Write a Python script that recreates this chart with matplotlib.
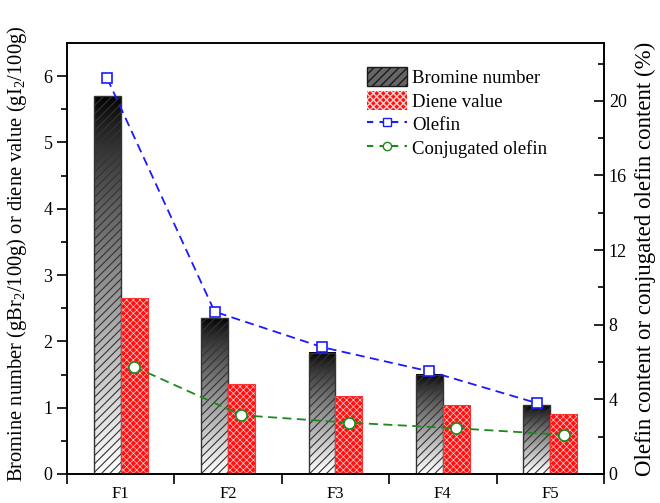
import numpy as np
import matplotlib
matplotlib.use('Agg')
import matplotlib.pyplot as plt
from matplotlib.patches import Patch
from matplotlib.lines import Line2D

plt.rcParams['font.family'] = ['Liberation Serif', 'DejaVu Serif']
plt.rcParams['mathtext.fontset'] = 'custom'
plt.rcParams['mathtext.rm'] = 'Liberation Serif'

# data
fractions = ['F1', 'F2', 'F3', 'F4', 'F5']
bromine_number = [5.70, 2.35, 1.83, 1.50, 1.04]      # gBr2/100g
diene_value = [2.65, 1.36, 1.18, 1.04, 0.90]         # gI2/100g
olefin = [21.2, 8.7, 6.8, 5.5, 3.8]                  # %
conj_olefin = [5.75, 3.15, 2.75, 2.45, 2.1]          # %

x = np.arange(1, len(fractions) + 1)
w = 0.25

fig = plt.figure(figsize=(6.6, 5.03), dpi=100)
ax = fig.add_axes([0.1015, 0.0577, 0.8135, 0.8568])

# bromine bars: black-to-white gradient under a diagonal hatch
grad = np.linspace(0, 1, 256).reshape(-1, 1)
for xi, h in zip(x - w / 2, bromine_number):
    ax.imshow(grad ** 0.8, cmap='gray', aspect='auto', vmin=0, vmax=1.0,
              extent=(xi - w / 2, xi + w / 2, 0, h), zorder=1)
with plt.rc_context({'hatch.linewidth': 0.8}):
    ax.bar(x - w / 2, bromine_number, w, facecolor='none', edgecolor='0.2',
           hatch='////', linewidth=1.0, zorder=2)

# diene bars: red with white cross-hatch (dotted look)
with plt.rc_context({'hatch.linewidth': 0.5}):
    ax.bar(x + w / 2, diene_value, w, facecolor='#ff1010', edgecolor='#ffd0d0',
           hatch='xxxxx', linewidth=0, zorder=2)
ax.bar(x + w / 2, diene_value, w, facecolor='none', edgecolor='#ff3030',
       linewidth=0.8, zorder=3)

ax.set_xlim(0.5, 5.5)
ax.set_ylim(0, 6.5)
ax.set_xticks(np.arange(0.5, 5.6, 1.0))
ax.set_xticklabels([])
ax.set_xticks(x, minor=True)
ax.set_xticklabels(fractions, minor=True, fontsize=12)
ax.tick_params(axis='x', which='major', direction='out', length=7, width=1.2)
ax.tick_params(axis='x', which='minor', length=0, pad=9)
ax.set_yticks(np.arange(0, 7, 1))
ax.set_yticks(np.arange(0.5, 6.5, 1), minor=True)
ax.tick_params(axis='y', which='major', direction='out', length=7, width=1.2, labelsize=13)
ax.tick_params(axis='y', which='minor', direction='out', length=4, width=1.2)
ax.set_ylabel('Bromine number (gBr$_2$/100g) or diene value (gI$_2$/100g)',
              fontsize=14.8)
ax.yaxis.set_label_coords(-0.07, 0.51)

ax2 = ax.twinx()
ax2.plot(x - w / 2, olefin, '--s', color='#1a1aff', markerfacecolor='white',
         markersize=7, markeredgewidth=1.2, linewidth=1.3, dashes=(5, 3))
ax2.plot(x + w / 2, conj_olefin, '--o', color='#1a8a1a', markerfacecolor='white',
         markersize=8, markeredgewidth=1.2, linewidth=1.3, dashes=(5, 3))
ax2.set_ylim(0, 23.1)
ax2.set_yticks(np.arange(0, 21, 4))
ax2.set_yticks(np.arange(2, 23, 4), minor=True)
ax2.tick_params(axis='y', which='major', direction='in', length=7, width=1.2, labelsize=13)
ax2.tick_params(axis='y', which='minor', direction='in', length=4, width=1.2)
ax2.set_ylabel('Olefin content or conjugated olefin content (%)', fontsize=16.5, labelpad=6)

for a in (ax, ax2):
    for s in a.spines.values():
        s.set_linewidth(1.2)

with plt.rc_context({'hatch.linewidth': 0.8}):
    brom_patch = Patch(facecolor='0.4', edgecolor='0.1', hatch='////', label='Bromine number')
with plt.rc_context({'hatch.linewidth': 0.5}):
    diene_patch = Patch(facecolor='#ff1010', edgecolor='#ffd0d0', hatch='xxxxx', linewidth=0,
                        label='Diene value')
handles = [
    brom_patch,
    diene_patch,
    Line2D([], [], linestyle='--', marker='s', color='#1a1aff', markerfacecolor='white',
           markersize=6, dashes=(3, 3), label='Olefin'),
    Line2D([], [], linestyle='--', marker='o', color='#1a8a1a', markerfacecolor='white',
           markersize=6, dashes=(3, 3), label='Conjugated olefin'),
]
ax2.legend(handles=handles, loc='upper left', bbox_to_anchor=(0.535, 0.975), frameon=False,
           fontsize=13.5, handlelength=2.1, handleheight=1.2, labelspacing=0.2,
           handletextpad=0.3, borderpad=0.2)

fig.savefig('out.png', dpi=100)
